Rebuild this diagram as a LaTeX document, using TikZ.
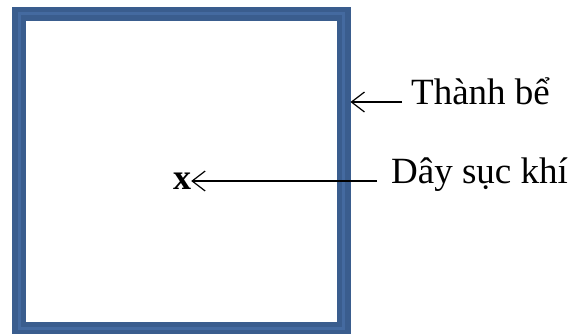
\documentclass[tikz,border=0pt]{standalone}
\usepackage{fontspec}
\setmainfont{Liberation Serif}
\usetikzlibrary{arrows.meta}

\definecolor{tankblue}{RGB}{58,93,142}
\definecolor{tanklight}{RGB}{68,106,160}

\begin{document}
\begin{tikzpicture}[x=1pt,y=-1pt,>={Straight Barb[length=13pt,width=20pt]},
	tank/.style={draw=tankblue,line width=5.5pt,double=tanklight,double distance=3pt,outer sep=7pt,inner sep=0pt},
	lbl/.style={anchor=west,inner ysep=0pt,text height=0.7em,text depth=0.2em,font=\fontsize{37}{40}\selectfont},
	pointer/.style={->,line width=1.2pt}]
	\useasboundingbox (0,0) rectangle (579,333);
	%tank
	\node[tank,minimum width=324.5pt,minimum height=315pt] (tank) at (181.25,171) {};
	\node[font=\fontsize{36}{38}\selectfont\bfseries,inner sep=0pt] (stone) at (182,181) {x};
	%labels
	\node[lbl,inner xsep=9pt] (wall) at (402,102) {Thành bể};
	\node[lbl,inner xsep=14pt] (air) at (377,181) {Dây sục khí};
	%pointers
	\draw[pointer] (wall.west) -- (wall.west -| tank.east);
	\draw[pointer] (air.west) -- (stone.east);
\end{tikzpicture}
\end{document}
